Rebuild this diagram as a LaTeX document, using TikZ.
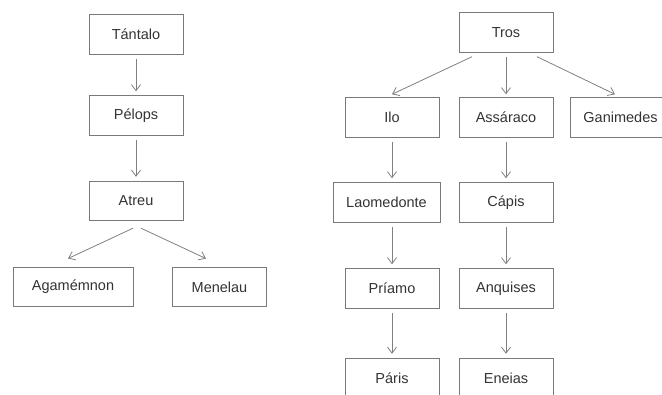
\documentclass[tikz,border=0pt]{standalone}
\usepackage{fontspec}
\setmainfont{Liberation Sans}
\usetikzlibrary{positioning,arrows.meta}

\begin{document}
\begin{tikzpicture}[x=1pt, y=1pt, on grid,
    person/.style={draw=black!52, line width=0.9pt, minimum width=94pt, minimum height=39.5pt,
      inner sep=0pt, text=black!80, font=\fontsize{14.5}{17}\selectfont},
    descent/.style={draw=black!50, line width=0.8pt, -{Straight Barb[length=6pt,width=9pt]},
      shorten <=4pt, shorten >=4pt},
    branch/.style={descent, shorten <=0pt, shorten >=0pt}]
  \useasboundingbox (0,-394) rectangle (662,0);
  \clip (0,-394) rectangle (662,0);
  \node[person] (Tan) at (136,-34.5) {Tántalo};
  \node[person, below=81pt of Tan] (Pel) {Pélops};
  \node[person, below=85.5pt of Pel] (Atr) {Atreu};
  \node[person, minimum width=120pt, below left=86pt and 63pt of Atr] (Aga) {Agamémnon};
  \node[person, below right=86pt and 83.5pt of Atr] (Men) {Menelau};
  \node[person] (Tro) at (506,-32.5) {Tros};
  \node[person, below left=85pt and 114pt of Tro] (Ilo) {Ilo};
  \node[person, below=85pt of Tro] (Ass) {Assáraco};
  \node[person, minimum width=100pt, below right=85pt and 114.5pt of Tro] (Gan) {Ganimedes};
  \node[person, minimum width=107pt, below=85pt of Ilo, xshift=-5.5pt] (Lao) {Laomedonte};
  \node[person, below=85pt of Ass] (Cap) {Cápis};
  \node[person, below=86pt of Lao, xshift=5.5pt] (Pri) {Príamo};
  \node[person, below=86pt of Cap] (Anq) {Anquises};
  \node[person, below=89.5pt of Pri] (Par) {Páris};
  \node[person, below=89.5pt of Anq] (Ene) {Eneias};
  \draw[descent] (Tan) -- (Pel);
  \draw[descent] (Pel) -- (Atr);
  \draw[branch] ([shift={(-3,-7)}]Atr.south) -- ([shift={(-5,8.25)}]Aga.north);
  \draw[branch] ([shift={(5,-7)}]Atr.south) -- ([shift={(-13.5,8.25)}]Men.north);
  \draw[branch] ([shift={(-34,-4)}]Tro.south) -- ([shift={(0,3)}]Ilo.north);
  \draw[descent, shorten >=3pt] (Tro) -- (Ass);
  \draw[branch] ([shift={(31,-4)}]Tro.south) -- ([shift={(-5.5,3)}]Gan.north);
  \draw[descent] (Ilo) -- (Ilo |- Lao.north);
  \draw[descent] (Pri |- Lao.south) -- (Pri);
  \draw[descent] (Pri) -- (Par);
  \draw[descent] (Ass) -- (Cap);
  \draw[descent] (Cap) -- (Anq);
  \draw[descent] (Anq) -- (Ene);
\end{tikzpicture}
\end{document}
